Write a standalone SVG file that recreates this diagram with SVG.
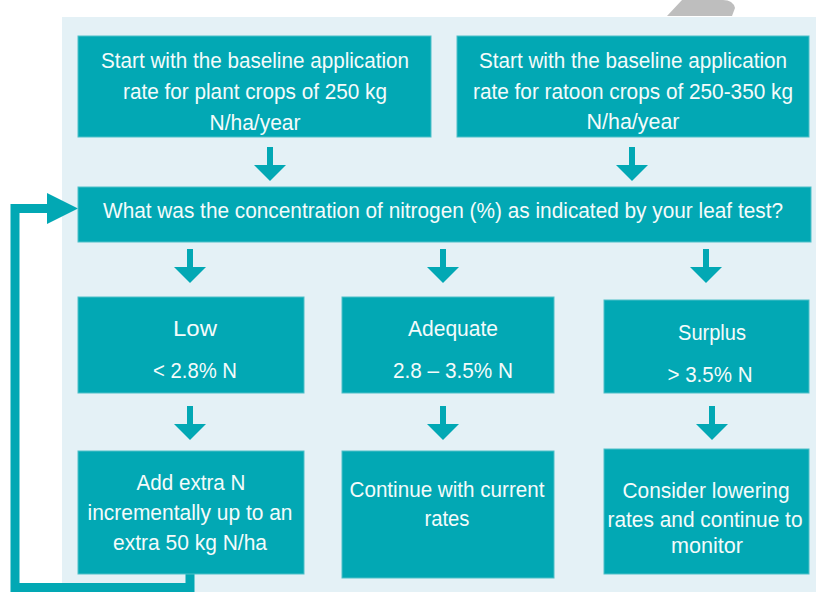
<svg xmlns="http://www.w3.org/2000/svg" width="816" height="592" viewBox="0 0 816 592">
<defs>
<style>
.box{fill:#02A8B4;stroke:#4EC0C8;stroke-width:1}
.t{font-family:"Liberation Sans",Arial,sans-serif;font-size:22.5px;fill:#F4FBFB;text-anchor:middle}
.arr{fill:#02A8B4}
.conn{fill:none;stroke:#02A8B4;stroke-width:9}
</style>
<symbol id="dn" viewBox="0 0 32 34" width="32" height="34" overflow="visible">
<rect x="13" y="0" width="6" height="19"/>
<polygon points="0,18 32,18 16,34"/>
</symbol>
</defs>
<rect width="816" height="592" fill="#FFFFFF"/>
<path d="M667,16 L682,0 L723,0 Q733,0 735,8 L732,16 Z" fill="#BEBEBE"/>
<rect x="62" y="17" width="754" height="575" fill="#E4F1F6"/>

<g id="connectors">
<path class="conn" d="M190,574 V587.5 H15 V208.5 H50"/>
<polygon class="arr" points="47,193 78,208.5 47,224"/>
<g class="arr">
<use href="#dn" x="254" y="147"/>
<use href="#dn" x="616" y="147"/>
<use href="#dn" x="174" y="249"/>
<use href="#dn" x="427" y="249"/>
<use href="#dn" x="690" y="249"/>
<use href="#dn" x="174" y="406"/>
<use href="#dn" x="427" y="406"/>
<use href="#dn" x="696" y="406"/>
</g>
</g>

<g id="start-plant">
<rect class="box" x="78" y="36" width="353" height="101"/>
<text class="t" x="255" y="68" textLength="308" lengthAdjust="spacingAndGlyphs">Start with the baseline  application</text>
<text class="t" x="255" y="99" textLength="264" lengthAdjust="spacingAndGlyphs">rate for plant crops of 250 kg</text>
<text class="t" x="255" y="130" textLength="91" lengthAdjust="spacingAndGlyphs">N/ha/year</text>
</g>

<g id="start-ratoon">
<rect class="box" x="457" y="36" width="352" height="101"/>
<text class="t" x="633" y="68" textLength="308" lengthAdjust="spacingAndGlyphs">Start with the baseline  application</text>
<text class="t" x="633" y="99" textLength="320" lengthAdjust="spacingAndGlyphs">rate for ratoon crops of 250-350  kg</text>
<text class="t" x="633" y="129" textLength="93" lengthAdjust="spacingAndGlyphs">N/ha/year</text>
</g>

<g id="question">
<rect class="box" x="78" y="187" width="733" height="55"/>
<text class="t" x="443" y="218" textLength="680" lengthAdjust="spacingAndGlyphs">What was the concentration of nitrogen (%) as indicated by your leaf test?</text>
</g>

<g id="low">
<rect class="box" x="78" y="297" width="226" height="96"/>
<text class="t" x="195" y="336" textLength="44" lengthAdjust="spacingAndGlyphs">Low</text>
<text class="t" x="195" y="378" textLength="84" lengthAdjust="spacingAndGlyphs">&lt; 2.8% N</text>
</g>

<g id="adequate">
<rect class="box" x="342" y="297" width="212" height="96"/>
<text class="t" x="453" y="336" textLength="90" lengthAdjust="spacingAndGlyphs">Adequate</text>
<text class="t" x="453" y="378" textLength="120" lengthAdjust="spacingAndGlyphs">2.8 – 3.5% N</text>
</g>

<g id="surplus">
<rect class="box" x="604" y="300" width="205" height="93"/>
<text class="t" x="712" y="340" textLength="68" lengthAdjust="spacingAndGlyphs">Surplus</text>
<text class="t" x="710" y="382" textLength="85" lengthAdjust="spacingAndGlyphs">&gt; 3.5% N</text>
</g>

<g id="add-extra">
<rect class="box" x="78" y="451" width="226" height="123"/>
<text class="t" x="191" y="490" textLength="109" lengthAdjust="spacingAndGlyphs">Add extra N</text>
<text class="t" x="190" y="520" textLength="205" lengthAdjust="spacingAndGlyphs">incrementally up to an</text>
<text class="t" x="190" y="550" textLength="154" lengthAdjust="spacingAndGlyphs">extra 50 kg N/ha</text>
</g>

<g id="continue">
<rect class="box" x="342" y="451" width="212" height="127"/>
<text class="t" x="447" y="497" textLength="195" lengthAdjust="spacingAndGlyphs">Continue with current</text>
<text class="t" x="447" y="526" textLength="45" lengthAdjust="spacingAndGlyphs">rates</text>
</g>

<g id="consider">
<rect class="box" x="604" y="449" width="205" height="125"/>
<text class="t" x="706" y="498" textLength="167" lengthAdjust="spacingAndGlyphs">Consider lowering</text>
<text class="t" x="705" y="527" textLength="195" lengthAdjust="spacingAndGlyphs">rates and continue to</text>
<text class="t" x="707" y="553" textLength="72" lengthAdjust="spacingAndGlyphs">monitor</text>
</g>
</svg>
